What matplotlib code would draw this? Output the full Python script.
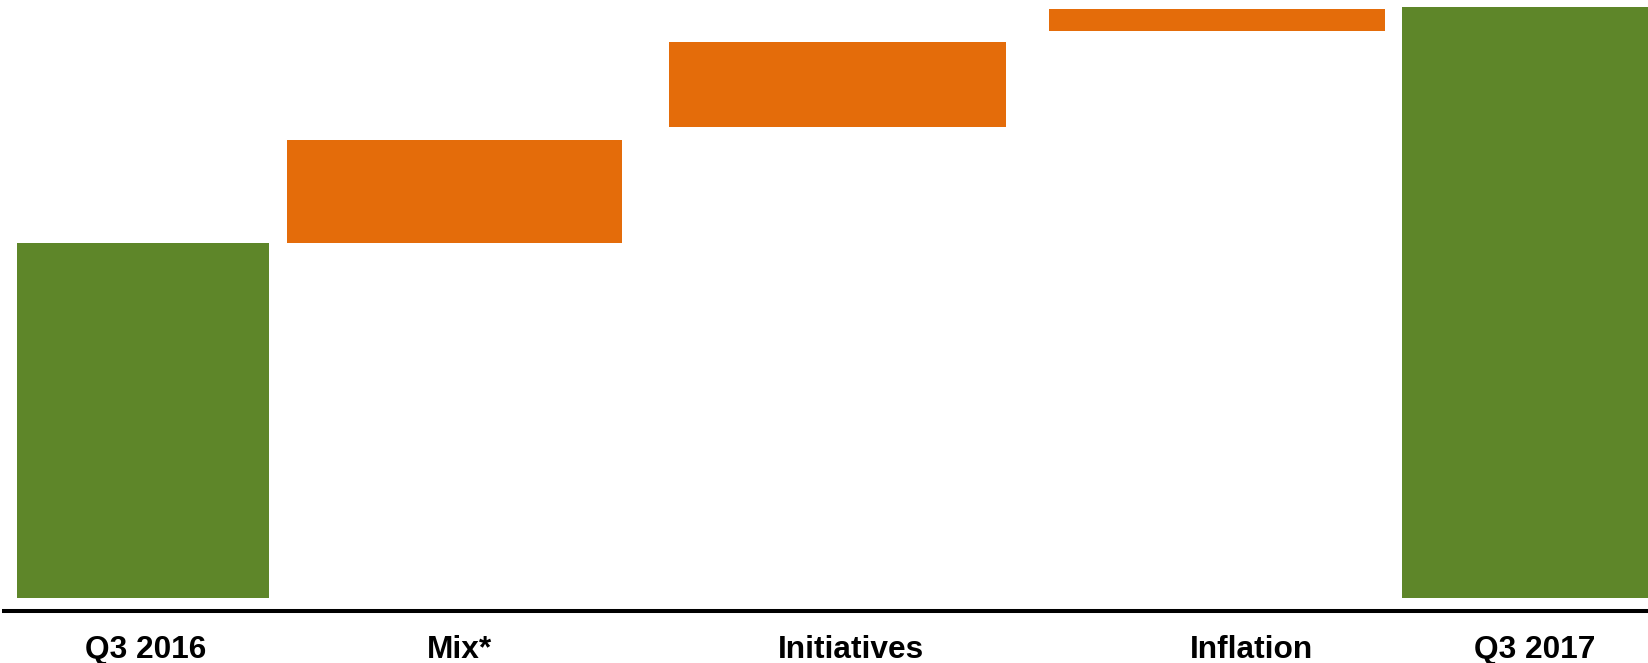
import matplotlib
matplotlib.use("Agg")
import matplotlib.pyplot as plt

# Data (values in chart units)
categories = ["Q3 2016", "Mix*", "Initiatives", "Inflation", "Q3 2017"]
bar_bottoms = [0, 354.5, 471.0, 566.5, 0]
bar_tops = [354.5, 457.5, 555.5, 588.5, 590.5]
kinds = ["total", "delta", "delta", "delta", "total"]

# Layout (horizontal positions in figure pixels)
bar_left = [17, 287, 669, 1049, 1402]
bar_right = [269, 622, 1006, 1385, 1660]
label_x = [146, 460, 851, 1252, 1535]

GREEN = "#5E8629"
ORANGE = "#E46C0A"

W, H = 1648, 663
fig = plt.figure(figsize=(W / 100, H / 100), dpi=100)
ax = fig.add_axes([0, 0, 1, 1])
ax.set_xlim(0, W)
ax.set_ylim(597.5 - H, 597.5)
ax.axis("off")

for b, t, l, r, k in zip(bar_bottoms, bar_tops, bar_left, bar_right, kinds):
    ax.bar(l, t - b, bottom=b, width=r - l, align="edge",
           color=GREEN if k == "total" else ORANGE, linewidth=0)

# baseline axis line
ax.plot([2, W], [-13.5, -13.5], color="black", linewidth=2.9, solid_capstyle="butt")

for x, lab in zip(label_x, categories):
    ax.text(x, -60.5, lab, ha="center", va="baseline", fontsize=22.8,
            fontweight="bold", family=["Liberation Sans", "DejaVu Sans"], color="black")

fig.savefig("out.png", dpi=100)
